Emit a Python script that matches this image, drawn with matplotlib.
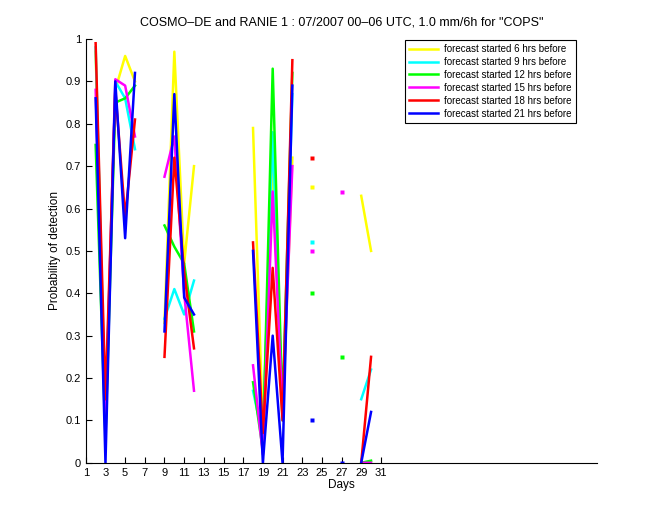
import numpy as np
import matplotlib
matplotlib.use('Agg')
import matplotlib.pyplot as plt

plt.rcParams['font.family'] = ['Liberation Sans', 'DejaVu Sans']

nan = np.nan
days = np.arange(1, 32)

def fill(vals):
    # vals: dict day -> value, NaN for missing days
    return np.array([vals.get(d, nan) for d in days])

pod_6h = fill({2: 0.97, 3: 0.08, 4: 0.88, 5: 0.96, 6: 0.90,
               9: 0.33, 10: 0.97, 11: 0.47, 12: 0.70,
               18: 0.79, 19: 0.08, 20: 0.70, 21: 0.10, 22: 0.72,
               24: 0.65, 29: 0.63, 30: 0.50})
pod_9h = fill({2: 0.98, 3: 0.10, 4: 0.90, 5: 0.86, 6: 0.74,
               9: 0.34, 10: 0.41, 11: 0.35, 12: 0.43,
               18: 0.17, 19: 0.06, 20: 0.78, 21: 0.10, 22: 0.87,
               24: 0.52, 29: 0.15, 30: 0.22})
pod_12h = fill({2: 0.75, 3: 0.06, 4: 0.85, 5: 0.86, 6: 0.89,
                9: 0.56, 10: 0.51, 11: 0.47, 12: 0.31,
                18: 0.19, 19: 0.03, 20: 0.93, 21: 0.12, 22: 0.92,
                24: 0.40, 27: 0.25, 29: 0.0, 30: 0.005})
pod_15h = fill({2: 0.88, 3: 0.10, 4: 0.905, 5: 0.89, 6: 0.77,
                9: 0.675, 10: 0.77, 11: 0.40, 12: 0.17,
                18: 0.23, 19: 0.02, 20: 0.64, 21: 0.12, 22: 0.70,
                24: 0.50, 27: 0.64, 29: 0.0, 30: 0.0})
pod_18h = fill({2: 0.99, 3: 0.15, 4: 0.88, 5: 0.58, 6: 0.81,
                9: 0.25, 10: 0.72, 11: 0.45, 12: 0.27,
                18: 0.52, 19: 0.07, 20: 0.46, 21: 0.10, 22: 0.95,
                24: 0.72, 29: 0.0, 30: 0.25})
pod_21h = fill({2: 0.86, 3: 0.0, 4: 0.90, 5: 0.53, 6: 0.92,
                9: 0.31, 10: 0.87, 11: 0.39, 12: 0.35,
                18: 0.50, 19: 0.0, 20: 0.30, 21: 0.0, 22: 0.89,
                24: 0.10, 27: 0.0, 29: 0.0, 30: 0.12})

series = [pod_6h, pod_9h, pod_12h, pod_15h, pod_18h, pod_21h]
labels = ['forecast started 6 hrs before', 'forecast started 9 hrs before',
          'forecast started 12 hrs before', 'forecast started 15 hrs before',
          'forecast started 18 hrs before', 'forecast started 21 hrs before']
colors = ['#ffff00', '#00ffff', '#00ff00', '#ff00ff', '#ff0000', '#0000ff']

fig = plt.figure(figsize=(6.6, 5.2), dpi=100)
ax = fig.add_axes([0.13, 0.11, 0.775, 0.815])

for vals, lab, col in zip(series, labels, colors):
    ax.plot(days, vals, color=col, lw=1.8, label=lab)
    # isolated days (no neighbours) show up as small dots
    prev = np.concatenate([[nan], vals[:-1]])
    nxt = np.concatenate([vals[1:], [nan]])
    iso = np.isfinite(vals) & np.isnan(prev) & np.isnan(nxt)
    ax.plot(days[iso], vals[iso], ls='none', marker='s', ms=2.3,
            mec='none', color=col, antialiased=False)

ax.set_xlim(1, 53)
ax.set_ylim(0, 1)
ax.set_xticks(np.arange(1, 32, 2))
ax.set_yticks(np.arange(0, 1.01, 0.1))
ax.set_yticklabels(['0'] + ['%.1f' % v for v in np.arange(0.1, 0.95, 0.1)] + ['1'])
ax.tick_params(direction='in', labelsize=8, length=4)
ax.spines['top'].set_visible(False)
ax.spines['right'].set_visible(False)

ax.set_xlabel('Days', fontsize=8.5, labelpad=1)
ax.set_ylabel('Probability of detection', fontsize=8.5, labelpad=3)
ax.set_title('COSMO\u2013DE and RANIE 1 : 07/2007 00\u201306 UTC, 1.0 mm/6h for "COPS"',
             fontsize=9, pad=10)

leg = ax.legend(loc='upper right', bbox_to_anchor=(0.968, 1.01), fontsize=7,
                fancybox=False, edgecolor='black', framealpha=1,
                handlelength=3.0, handletextpad=0.6, borderpad=0.45,
                labelspacing=0.3)
leg.get_frame().set_linewidth(0.8)

fig.savefig('out.png', dpi=100)
